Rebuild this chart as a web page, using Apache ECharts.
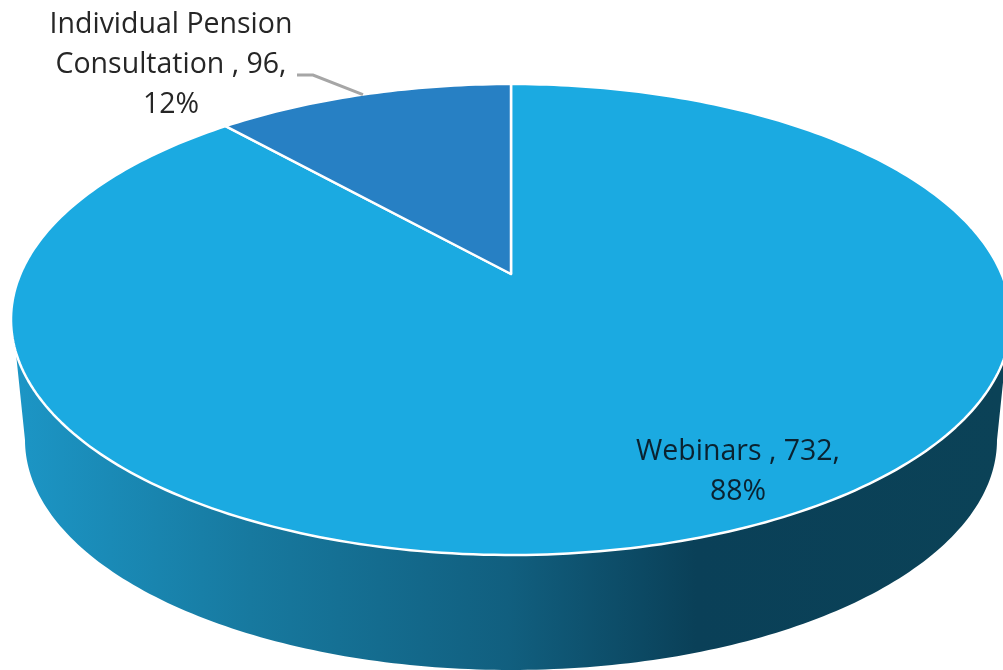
<!DOCTYPE html>
<html>
<head>
<meta charset="utf-8">
<style>
  html, body { margin: 0; padding: 0; background: #fff; overflow: hidden; }
  #chart { width: 1003px; height: 670px; }
</style>
</head>
<body>
<div id="chart"></div>
<script src="https://cdn.jsdelivr.net/npm/echarts@6/dist/echarts.min.js"></script>
<script>
const categories = ["Webinars", "Individual Pension\nConsultation"];
const values = [732, 96];

const total = values.reduce((a, b) => a + b, 0);
const sliceColors = ["#1BAAE1", "#2780C4"];
const TEXT_FONT = '"Open Sans", sans-serif';

// top face: ellipse seen in perspective, the pie centre is not the ellipse centre
const face = { cx: 511, top: 84, hub: 274, bottom: 555, rx: 500 };
const faceCy = (face.top + face.bottom) / 2;
const faceRy = (face.bottom - face.top) / 2;
const up = face.hub - face.top;
const down = face.bottom - face.hub;
const skew = (up - down) / (up + down);
const scaleY = down * (1 + skew);
const scaleX = face.rx * Math.sqrt(1 - skew * skew);

function facePoint(angle) {
  const u = Math.sin(angle);
  const v = -Math.cos(angle);
  const w = 1 + skew * v;
  return [face.cx + (scaleX * u) / w, face.hub + (scaleY * v) / w];
}

function ellipsePoint(deg, cx, cy, rx, ry) {
  const t = (deg * Math.PI) / 180;
  return [cx + rx * Math.sin(t), cy - ry * Math.cos(t)];
}

function wallPoints() {
  const pts = [];
  for (let d = 98; d <= 262; d++) pts.push(ellipsePoint(d, face.cx, faceCy, face.rx, faceRy));
  for (let d = 270; d >= 90; d--) pts.push(ellipsePoint(d, face.cx, 440, 486, 230));
  return pts;
}

function slicePoints(start, end) {
  const pts = [[face.cx, face.hub]];
  const steps = Math.ceil(((end - start) * 180) / Math.PI);
  for (let i = 0; i <= steps; i++) pts.push(facePoint(start + ((end - start) * i) / steps));
  return pts;
}

const labelSpots = [
  { x: 738, y: 472, fill: "#0A2230" },
  { x: 171, y: 65, fill: "#262626" },
];

function renderSlice(params, api) {
  const i = params.dataIndex;
  const before = values.slice(0, i).reduce((a, b) => a + b, 0);
  const start = (before / total) * Math.PI * 2;
  const end = ((before + api.value(1)) / total) * Math.PI * 2;
  const children = [];

  // only the big slice runs along the front of the pie
  if (start < Math.PI && end > Math.PI) {
    children.push({
      type: "polygon",
      shape: { points: wallPoints() },
      style: {
        fill: new echarts.graphic.LinearGradient(13, 0, 1003, 0, [
          { offset: 0, color: "#1C96C6" },
          { offset: 0.24, color: "#17799F" },
          { offset: 0.5, color: "#115F7F" },
          { offset: 0.69, color: "#0A4058" },
          { offset: 1, color: "#0B4257" },
        ], true),
      },
    });
  }

  children.push({
    type: "polygon",
    shape: { points: slicePoints(start, end) },
    style: { fill: sliceColors[i], stroke: "#fff", lineWidth: 2.5, lineJoin: "round" },
  });

  // leader line goes from the label to the middle of the slice rim
  if (i === 1) {
    children.push({
      type: "polyline",
      shape: { points: [[297, 75], [313, 75], facePoint((start + end) / 2)] },
      style: { fill: "none", stroke: "#A6A6A6", lineWidth: 3 },
    });
  }

  const pct = Math.round((api.value(1) / total) * 100);
  children.push({
    type: "text",
    x: labelSpots[i].x,
    y: labelSpots[i].y,
    style: {
      text: categories[i] + " , " + api.value(1) + ",\n" + pct + "%",
      align: "center",
      verticalAlign: "middle",
      fill: labelSpots[i].fill,
      font: "28.5px " + TEXT_FONT,
      lineHeight: 40,
    },
  });

  return { type: "group", children: children };
}

const myChart = echarts.init(document.getElementById("chart"), null, { renderer: "canvas" });

myChart.setOption({
  animation: false,
  backgroundColor: "#fff",
  series: [
    {
      type: "custom",
      coordinateSystem: "none",
      clip: false,
      renderItem: renderSlice,
      data: categories.map((name, i) => [i, values[i]]),
    },
  ],
});
</script>
</body>
</html>
